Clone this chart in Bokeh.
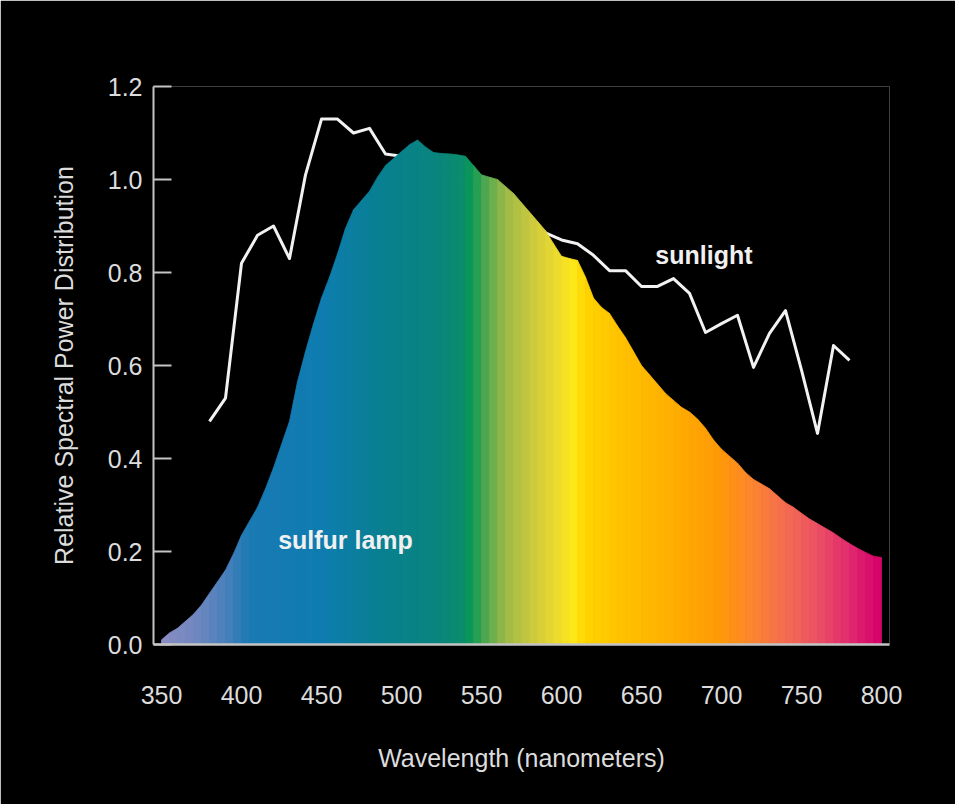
from bokeh.plotting import figure
from bokeh.models import Range1d, FixedTicker, PrintfTickFormatter
from bokeh.embed import file_html
from bokeh.resources import INLINE
from bokeh.core.properties import value

# ---------------- data ----------------
lamp_nm = list(range(350, 805, 5))
lamp_val = [0.010, 0.025, 0.035, 0.050, 0.065, 0.085, 0.110, 0.135, 0.160, 0.195,
            0.235, 0.265, 0.295, 0.335, 0.380, 0.430, 0.480, 0.565, 0.630, 0.690,
            0.745, 0.790, 0.840, 0.895, 0.935, 0.955, 0.975, 1.005, 1.030, 1.045,
            1.060, 1.075, 1.085, 1.070, 1.058, 1.056, 1.055, 1.053, 1.050, 1.030,
            1.010, 1.005, 1.000, 0.985, 0.970, 0.950, 0.930, 0.910, 0.890, 0.862,
            0.835, 0.830, 0.826, 0.790, 0.745, 0.725, 0.712, 0.685, 0.660, 0.630,
            0.600, 0.580, 0.560, 0.540, 0.525, 0.510, 0.500, 0.485, 0.465, 0.440,
            0.420, 0.405, 0.390, 0.370, 0.355, 0.345, 0.335, 0.320, 0.305, 0.295,
            0.282, 0.270, 0.260, 0.250, 0.240, 0.228, 0.217, 0.207, 0.198, 0.190,
            0.187]

sun_nm = [380, 390, 400, 410, 420, 430, 440, 450, 460, 470, 480, 490, 500, 510,
          520, 530, 540, 550, 560, 570, 580, 590, 600, 610, 620, 630, 640, 650,
          660, 670, 680, 690, 700, 710, 720, 730, 740, 750, 760, 770, 780]
sun_val = [0.48, 0.53, 0.82, 0.88, 0.90, 0.83, 1.01, 1.13, 1.13, 1.10, 1.11, 1.055,
           1.05, 1.05, 1.03, 1.01, 0.99, 0.965, 0.945, 0.925, 0.91, 0.885, 0.87,
           0.862, 0.837, 0.804, 0.804, 0.77, 0.77, 0.787, 0.755, 0.671, 0.69, 0.708,
           0.596, 0.669, 0.718, 0.59, 0.454, 0.643, 0.611]

x_ticks = [350, 400, 450, 500, 550, 600, 650, 700, 750, 800]
y_ticks = [0.0, 0.2, 0.4, 0.6, 0.8, 1.0, 1.2]

series_labels = ["sunlight", "sulfur lamp"]
label_pos_nm = [689, 465]
label_pos_val = [0.837, 0.224]

# ---------------- style: spectrum colour stops ----------------
stop_nm = [350, 370, 390, 405, 450, 490, 520, 538, 544, 552, 565, 585, 600, 608,
           615, 640, 670, 700, 720, 740, 760, 780, 800]
stop_col = ["#8a8cc4", "#7488c0", "#4a80bc", "#1a7ab4", "#0e7cb0", "#08808f",
            "#0a8480", "#0a8c6c", "#0a9a55", "#4aa650", "#9cba48", "#d4cc3c",
            "#f2de2a", "#ffe818", "#ffd400", "#ffc000", "#ffae00", "#ff9808",
            "#fc8430", "#f46c50", "#ec5064", "#e02a6e", "#d6006a"]


def _rgb(h):
    h = h.lstrip("#")
    return [int(h[i:i + 2], 16) for i in (0, 2, 4)]


def spectrum_color(nm):
    if nm <= stop_nm[0]:
        return stop_col[0]
    for i in range(len(stop_nm) - 1):
        a, b = stop_nm[i], stop_nm[i + 1]
        if a <= nm <= b:
            t = (nm - a) / (b - a)
            ca, cb = _rgb(stop_col[i]), _rgb(stop_col[i + 1])
            c = [round(ca[k] + (cb[k] - ca[k]) * t) for k in range(3)]
            return "#%02x%02x%02x" % tuple(c)
    return stop_col[-1]


FONT = "Liberation Sans"
TXT = "#dcdcdc"
AX = "#c4c4c4"

p = figure(frame_width=736, frame_height=558,
           min_border_left=153, min_border_right=66,
           min_border_top=86, min_border_bottom=160,
           x_range=Range1d(345, 805), y_range=Range1d(0, 1.2),
           output_backend="svg", toolbar_location=None,
           background_fill_color="black", border_fill_color="black",
           outline_line_color=None, border_line_color=None)
p.xgrid.visible = False
p.ygrid.visible = False

# sunlight line (drawn beneath the lamp area)
p.line(sun_nm, sun_val, line_color="#f2f2f2", line_width=3, line_join="round")

# sulfur lamp area with spectrum colouring
xs, ys, cols = [], [], []
for i in range(len(lamp_nm) - 1):
    x0, x1 = lamp_nm[i], lamp_nm[i + 1]
    y0, y1 = lamp_val[i], lamp_val[i + 1]
    xs.append([x0, x0, x1, x1])
    ys.append([0, y0, y1, 0])
    cols.append(spectrum_color((x0 + x1) / 2))
p.patches(xs, ys, fill_color=cols, line_color=cols, line_width=0.8)

# series labels
p.text(x=label_pos_nm, y=label_pos_val, text=series_labels,
       text_font=value(FONT), text_font_size="25px", text_font_style="bold",
       text_color="#f0f0f0", text_align="center", text_baseline="middle")

# axes
xa = p.xaxis[0]
xa.ticker = FixedTicker(ticks=x_ticks)
xa.major_tick_in = 0
xa.major_tick_out = 0
xa.minor_tick_in = 0
xa.minor_tick_out = 0
xa.major_label_standoff = 41
xa.axis_line_color = AX
xa.axis_line_width = 2.5
xa.major_label_text_font = FONT
xa.major_label_text_font_size = "25px"
xa.major_label_text_color = TXT
xa.axis_label = "Wavelength (nanometers)"
xa.axis_label_text_font = FONT
xa.axis_label_text_font_size = "25px"
xa.axis_label_text_font_style = "normal"
xa.axis_label_text_color = TXT
xa.axis_label_standoff = 37

ya = p.yaxis[0]
ya.ticker = FixedTicker(ticks=y_ticks)
ya.formatter = PrintfTickFormatter(format="%.1f")
ya.major_tick_in = 18
ya.major_tick_out = 0
ya.minor_tick_in = 0
ya.minor_tick_out = 0
ya.major_tick_line_color = AX
ya.major_tick_line_width = 2
ya.axis_line_color = AX
ya.axis_line_width = 2
ya.major_label_standoff = 11
ya.major_label_text_font = FONT
ya.major_label_text_font_size = "25px"
ya.major_label_text_color = TXT
ya.axis_label = "Relative Spectral Power Distribution"
ya.axis_label_text_font = FONT
ya.axis_label_text_font_size = "25px"
ya.axis_label_text_font_style = "normal"
ya.axis_label_text_color = TXT
ya.axis_label_standoff = 27

open("out.html", "w").write(file_html(p, INLINE))
